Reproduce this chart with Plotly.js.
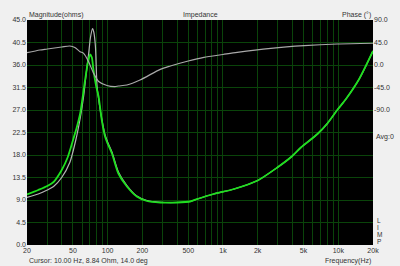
<!DOCTYPE html>
<html>
<head>
<meta charset="utf-8">
<script src="https://cdn.plot.ly/plotly-3.0.1.min.js"></script>
<style>
html,body{margin:0;padding:0;background:#f0f0f0;}
#chart{width:400px;height:266px;}
</style>
</head>
<body>
<div id="chart"></div>
<script>
// Green magnitude curve (ohms)
const greenFreq = [20,25,30,34,40,45,50.6,54,57.8,63.8,68,70.6,73,75.4,80,83.5,89,95,100,109,124,147,179,219,286,400,520,600,830,1250,2000,2960,3900,4740,6600,8040,9800,11660,15180,20000];
const greenMag  = [10.1,11.0,11.8,12.6,15.0,17.5,21.3,23.5,26.3,33.0,37.0,38.1,37.5,35.0,31.5,29.7,25.0,21.7,20.3,18.3,14.3,11.7,9.7,8.8,8.5,8.5,8.7,9.2,10.2,11.2,12.9,15.5,17.6,19.5,22.2,24.3,27.0,29.2,33.2,38.8];
// Gray magnitude curve (ohms)
const grayFreq = [20,25,30,34,40,47,53,58,61.9,65,68.5,71,74,76,78.4,81,85,89,95,100,109,124,147,179,219,286,400,520,600,830,1250,2000,2960,3900,4740,6600,8040,9800,11660,15180,20000];
const grayMag  = [9.5,10.2,11.0,11.7,13.5,16.5,21.0,25.5,29.7,34.0,38.3,41.5,43.3,42.5,39.7,31.7,28.0,25.2,22.0,20.6,18.6,14.6,11.9,9.8,8.9,8.55,8.5,8.7,9.2,10.2,11.2,12.9,15.5,17.6,19.5,22.2,24.3,27.0,29.2,33.2,38.8];
// Phase curve (degrees)
const phaseFreq = [20,25.9,30,40,47,52,57.7,61.9,68.4,75.6,83.6,98.6,116,124,147,191,286,350,500,684,1000,1330,2600,5060,9800,20000];
const phaseDeg  = [24.6,30,32,36,38,35,26.7,23.3,6.7,-16.7,-33,-41,-43.3,-42,-40,-30,-8.7,-2,8,15.3,21,25.3,33.3,38.7,42,43.5];
// Axis ticks
const xTickVals = [20,50,100,200,500,1000,2000,5000,10000,20000];
const xTickText = ["20","50","100","200","500","1k","2k","5k","10k","20k"];
const xGridVals = [20,30,40,50,60,70,80,90,100,200,300,400,500,600,700,800,900,1000,2000,3000,4000,5000,6000,7000,8000,9000,10000,20000];
const magTicks = [0,4.5,9,13.5,18,22.5,27,31.5,36,40.5,45];
const phaseTickVals = [90,45,0,-45,-90];
const phaseTickText = ["90.0","45.0","0.0","-45.0","-90.0"];
const limpLetters = ["L","I","M","P"];

const gridCol = '#0a440a';
const txtCol = '#333';
const tf = {family:'Liberation Sans, Arial, sans-serif', size:7, color:txtCol};

const traces = [
  {x:phaseFreq, y:phaseDeg, yaxis:'y2', type:'scatter', mode:'lines', line:{color:'#a8a8a8', width:1.2, shape:'spline', smoothing:0.7}, hoverinfo:'skip'},
  {x:grayFreq, y:grayMag, type:'scatter', mode:'lines', line:{color:'#b4b4b4', width:1.2, shape:'spline', smoothing:0.7}, hoverinfo:'skip'},
  {x:greenFreq, y:greenMag, type:'scatter', mode:'lines', line:{color:'#1ee01e', width:1.8, shape:'spline', smoothing:0.7}, hoverinfo:'skip'}
];

const annotations = [
  {xref:'paper', yref:'paper', x:0, y:1, xanchor:'left', yanchor:'bottom', text:'Magnitude(ohms)', showarrow:false, font:tf, yshift:-1},
  {xref:'paper', yref:'paper', x:0.5, y:1, xanchor:'center', yanchor:'bottom', text:'Impedance', showarrow:false, font:tf, yshift:-1},
  {xref:'paper', yref:'paper', x:1, y:1, xanchor:'right', yanchor:'bottom', text:'Phase (°)', showarrow:false, font:tf, yshift:-1},
  {xref:'paper', yref:'paper', x:0, y:0, xanchor:'left', yanchor:'top', text:'Cursor: 10.00 Hz, 8.84 Ohm, 14.0 deg', showarrow:false, font:tf, yshift:-10},
  {xref:'paper', yref:'paper', x:1, y:0, xanchor:'right', yanchor:'top', text:'Frequency(Hz)', showarrow:false, font:tf, yshift:-10},
  {xref:'paper', yref:'paper', x:1, y:0.48, xanchor:'left', yanchor:'middle', text:'Avg:0', showarrow:false, font:tf, xshift:1}
];
limpLetters.forEach((l,i)=>{
  annotations.push({xref:'paper', yref:'paper', x:1, y:0, xanchor:'left', yanchor:'middle', text:l, showarrow:false, borderpad:0,
    font:{family:tf.family,size:6.5,color:txtCol}, xshift:3, yshift:25-i*7});
});

const layout = {
  width:400, height:266,
  paper_bgcolor:'#f0f0f0', plot_bgcolor:'#000000',
  margin:{l:27, r:27, t:20, b:21, pad:0},
  showlegend:false,
  xaxis:{type:'log', range:[Math.log10(20), Math.log10(20000)], tickmode:'array', tickvals:xTickVals, ticktext:xTickText,
    showgrid:false, zeroline:false, showline:false, ticks:'', tickfont:tf, fixedrange:true,
    minor:{tickmode:'array', tickvals:xGridVals, showgrid:true, gridcolor:gridCol, gridwidth:1, ticks:''}},
  yaxis:{range:[0,45], tickmode:'array', tickvals:magTicks, ticktext:magTicks.map(v=>v.toFixed(1)), showgrid:true, gridcolor:gridCol, gridwidth:1,
    zeroline:false, showline:false, ticks:'', tickfont:tf, fixedrange:true},
  yaxis2:{overlaying:'y', side:'right', range:[-360,90], tickmode:'array', tickvals:phaseTickVals, ticktext:phaseTickText,
    showgrid:false, zeroline:false, showline:false, ticks:'', tickfont:tf, fixedrange:true},
  annotations:annotations
};

Plotly.newPlot('chart', traces, layout, {staticPlot:true, displayModeBar:false});
</script>
</body>
</html>
